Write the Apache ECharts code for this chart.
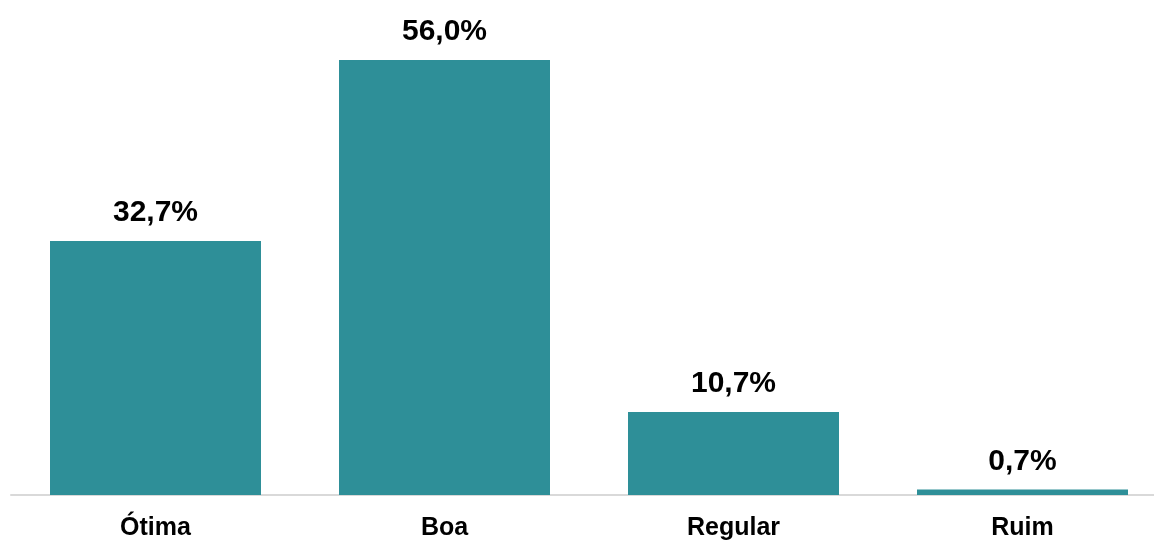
<!DOCTYPE html>
<html>
<head>
<meta charset="utf-8">
<script src="https://cdn.jsdelivr.net/npm/echarts@6/dist/echarts.min.js"></script>
<style>
html,body{margin:0;padding:0;background:#fff;overflow:hidden;}
#chart{width:1170px;height:540px;}
</style>
</head>
<body>
<div id="chart"></div>
<script>
const categories = ["Ótima", "Boa", "Regular", "Ruim"];
const values = [32.7, 56.0, 10.7, 0.7];

const chart = echarts.init(document.getElementById('chart'));
chart.setOption({
  animation: false,
  backgroundColor: '#ffffff',
  grid: { left: 11, width: 1156, top: 29, bottom: 45, containLabel: false, outerBoundsMode: 'none' },
  xAxis: {
    type: 'category',
    data: categories,
    axisLine: { show: true, lineStyle: { color: '#d9d9d9', width: 2 } },
    axisTick: { show: false },
    axisLabel: {
      color: '#000', fontFamily: 'Liberation Sans, Arial, sans-serif',
      fontWeight: 'bold', fontSize: 25, margin: 21
    }
  },
  yAxis: { type: 'value', min: 0, max: 60, show: false, splitLine: { show: false } },
  series: [{
    type: 'bar',
    data: values,
    barWidth: 211,
    itemStyle: { color: '#2E8F98' },
    label: {
      show: true, position: 'top', distance: 13,
      color: '#000', fontFamily: 'Liberation Sans, Arial, sans-serif',
      fontWeight: 'bold', fontSize: 30,
      formatter: p => p.value.toFixed(1).replace('.', ',') + '%'
    }
  }]
});
</script>
</body>
</html>
